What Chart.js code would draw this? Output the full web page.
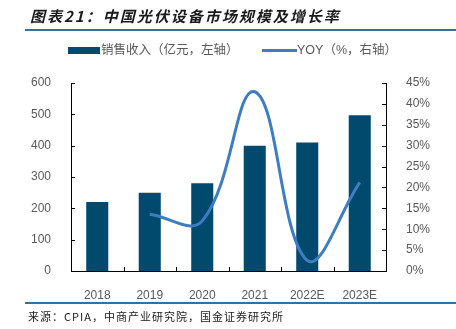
<!DOCTYPE html>
<html>
<head>
<meta charset="utf-8">
<script src="https://cdn.jsdelivr.net/npm/chart.js@4.4.0/dist/chart.umd.min.js"></script>
<style>
  body { margin: 0; background: #fff; }
  #wrap { position: relative; width: 456px; height: 329px; overflow: hidden; font-family: "Liberation Sans", "Noto Sans CJK SC", sans-serif; }
  #chart { position: absolute; left: 0; top: 0; }
  .title { position: absolute; left: 30px; top: 7px; font: italic bold 15px/18px "Noto Sans CJK SC", sans-serif; letter-spacing: 2px; color: #1a1a1a; white-space: nowrap; }
  .rule { position: absolute; left: 25px; width: 431px; height: 2px; background: #3d6e99; }
  .lg { position: absolute; font: 12.5px/15px "Liberation Sans", "Noto Sans CJK SC", sans-serif; color: #595959; white-space: nowrap; }
  .src { position: absolute; left: 28px; top: 309px; font: 11px/14px "Noto Sans CJK SC", sans-serif; letter-spacing: 1px; color: #222; white-space: nowrap; }
</style>
</head>
<body>
<div id="wrap">
  <canvas id="chart" width="456" height="329"></canvas>
  <div class="title">图表21：中国光伏设备市场规模及增长率</div>
  <div class="rule" style="top:29px"></div>
  <div style="position:absolute;left:68px;top:47px;width:32px;height:7px;background:#02496e"></div>
  <div class="lg" style="left:101px;top:43px">销售收入（亿元，左轴）</div>
  <div style="position:absolute;left:262px;top:49px;width:35px;height:3px;background:#3e7ec0"></div>
  <div class="lg" style="left:297px;top:43px">YOY（%，右轴）</div>
  <div class="rule" style="top:302px"></div>
  <div class="src">来源：CPIA，中商产业研究院，国金证券研究所</div>
</div>
<script>
// data
const years = ['2018', '2019', '2020', '2021', '2022E', '2023E'];
const sales = [220, 250, 280, 400, 410, 497];       // 亿元, left axis
const yoy = [null, 13.6, 12.0, 42.9, 2.5, 21.2];    // %, right axis

const tickFont = { family: '"Liberation Sans", Arial, sans-serif', size: 12 };
const tickColor = '#595959';

// small ticks that point into the plot, like the original
const innerTicks = {
  id: 'innerTicks',
  afterDatasetsDraw(chart) {
    const { ctx, scales: { x, y, y1 } } = chart;
    ctx.save();
    ctx.strokeStyle = '#000';
    ctx.lineWidth = 1;
    ctx.beginPath();
    y.ticks.forEach((t, i) => {
      const py = Math.round(y.getPixelForTick(i)) + 0.5;
      ctx.moveTo(y.right, py);
      ctx.lineTo(y.right + 4, py);
    });
    y1.ticks.forEach((t, i) => {
      const py = Math.round(y1.getPixelForTick(i)) + 0.5;
      ctx.moveTo(y1.left, py);
      ctx.lineTo(y1.left - 4, py);
    });
    const n = years.length;
    for (let i = 1; i < n; i++) {
      const px = Math.round(x.left + i * (x.width / n)) + 0.5;
      ctx.moveTo(px, x.top);
      ctx.lineTo(px, x.top - 4);
    }
    ctx.stroke();
    ctx.restore();
  }
};

new Chart(document.getElementById('chart'), {
  data: {
    labels: years,
    datasets: [
      {
        type: 'line',
        label: 'YOY（%，右轴）',
        data: yoy,
        yAxisID: 'y1',
        borderColor: '#3e7ec0',
        borderWidth: 3,
        pointRadius: 0,
        tension: 0.4,
        order: 0,
      },
      {
        type: 'bar',
        label: '销售收入（亿元，左轴）',
        data: sales,
        yAxisID: 'y',
        backgroundColor: '#02496e',
        categoryPercentage: 0.42,
        barPercentage: 1,
        order: 1,
      },
    ],
  },
  options: {
    responsive: false,
    devicePixelRatio: 1,
    animation: false,
    layout: { padding: { top: 83, left: 0, right: 0, bottom: 0 } },
    plugins: { legend: { display: false }, tooltip: { enabled: false } },
    scales: {
      x: {
        grid: { display: false },
        border: { display: true, color: '#000', width: 1 },
        ticks: { font: tickFont, color: tickColor, padding: 9 },
        afterFit: (s) => { s.height = 58; },
      },
      y: {
        position: 'left',
        min: 0,
        max: 600,
        ticks: { stepSize: 100, font: tickFont, color: tickColor, padding: 12 },
        grid: { display: false },
        border: { display: true, color: '#000', width: 1 },
        afterFit: (s) => { s.width = 71; },
      },
      y1: {
        position: 'right',
        min: 0,
        max: 45,
        ticks: { stepSize: 5, font: tickFont, color: tickColor, padding: 12, callback: (v) => v + '%' },
        grid: { display: false },
        border: { display: true, color: '#000', width: 1 },
        afterFit: (s) => { s.width = 70; },
      },
    },
  },
  plugins: [innerTicks],
});
</script>
</body>
</html>
